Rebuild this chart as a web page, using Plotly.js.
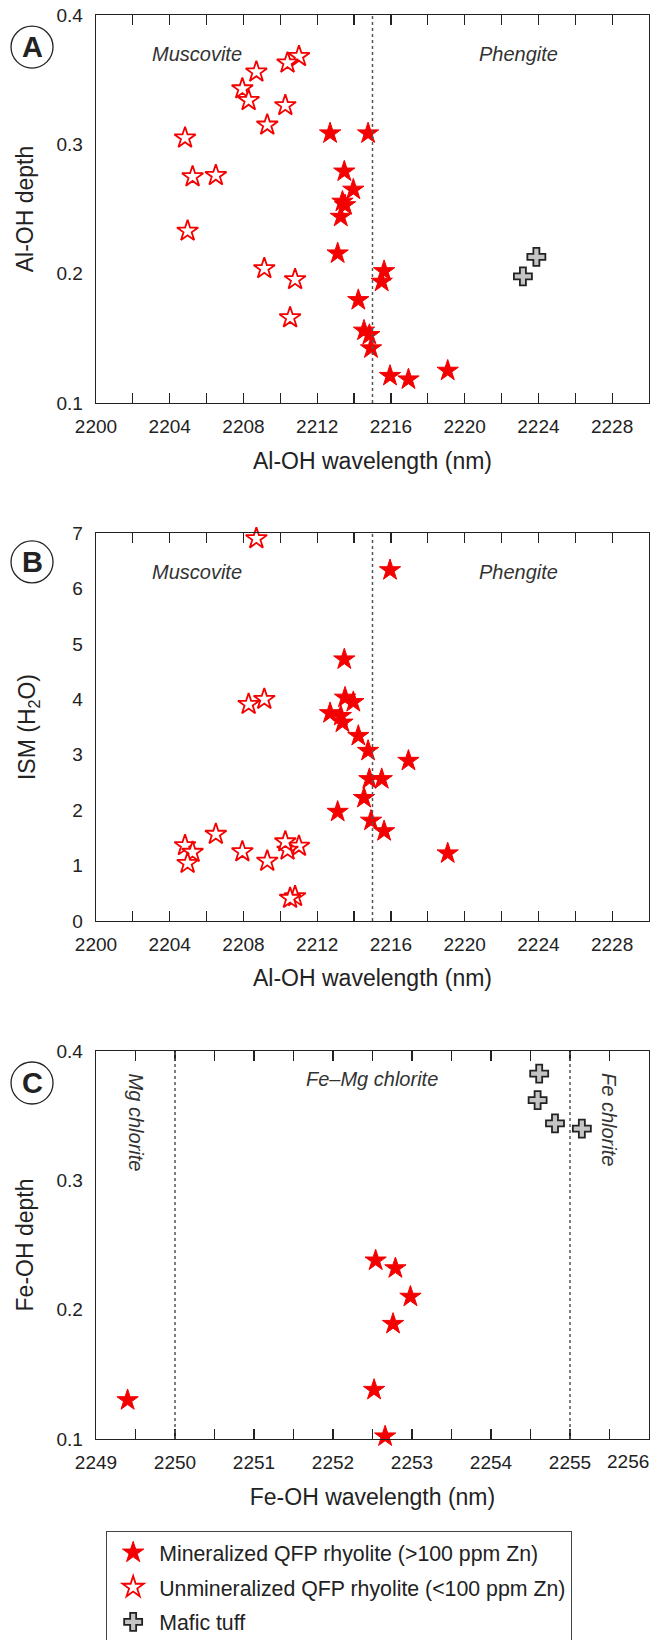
<!DOCTYPE html>
<html><head><meta charset="utf-8">
<script src="https://cdn.plot.ly/plotly-3.0.1.min.js"></script>
<style>html,body{margin:0;padding:0;background:#fff}</style>
</head><body><div id="chart" style="width:663px;height:1640px"></div>
<script>
// ---- Panel A / B : Al-OH (white mica) ----
const alohWlMin = [2212.70, 2214.76, 2213.47, 2213.96, 2213.37, 2213.51, 2213.28, 2213.11, 2215.63, 2215.50, 2214.23, 2214.54, 2214.83, 2214.92, 2215.95, 2216.95, 2219.08];
const alohDepthMin = [0.3085, 0.3085, 0.279, 0.265, 0.2557, 0.253, 0.244, 0.2157, 0.202, 0.1938, 0.1796, 0.156, 0.1526, 0.1423, 0.121, 0.1183, 0.125];
const ismMin = [3.75, 3.07, 4.72, 3.95, 3.58, 4.03, 3.70, 1.97, 1.62, 2.56, 3.34, 2.22, 2.56, 1.81, 6.33, 2.89, 1.22];

const alohWlUn = [2211.01, 2210.39, 2208.70, 2207.94, 2208.28, 2210.27, 2209.29, 2204.83, 2205.24, 2206.50, 2204.97, 2209.13, 2210.80, 2210.53];
const alohDepthUn = [0.368, 0.363, 0.356, 0.343, 0.334, 0.330, 0.315, 0.305, 0.275, 0.276, 0.233, 0.204, 0.1955, 0.166];
const ismUn = [1.35, 1.28, 6.90, 1.25, 3.91, 1.43, 1.08, 1.36, 1.24, 1.565, 1.04, 4.00, 0.44, 0.41];

const alohWlMafic = [2223.16, 2223.89];
const alohDepthMafic = [0.198, 0.213];

// ---- Panel C : Fe-OH (chlorite) ----
const feohWlMin = [2249.40, 2252.54, 2252.79, 2252.98, 2252.76, 2252.52, 2252.66];
const feohDepthMin = [0.130, 0.238, 0.232, 0.210, 0.189, 0.138, 0.102];
const feohWlMafic = [2254.61, 2254.59, 2254.81, 2255.15];
const feohDepthMafic = [0.3825, 0.362, 0.344, 0.340];

// tick labels of panel C; the last one (at the page edge) is drawn right-aligned as an annotation
const feohTickVals = [2249, 2250, 2251, 2252, 2253, 2254, 2255];
const feohTickText = ['2249', '2250', '2251', '2252', '2253', '2254', '2255'];
const feohLastTickVal = 2256;
const feohLastTick = '2256';

const seriesNames = ['Mineralized QFP rhyolite (>100 ppm Zn)', 'Unmineralized QFP rhyolite (<100 ppm Zn)', 'Mafic tuff'];

const RED = '#f50000';
const mkMin = {symbol: 'star', size: 16, color: RED, line: {color: RED, width: 1}};
const mkUn = {symbol: 'star', size: 16, color: '#ffffff', line: {color: RED, width: 1.8}};
const mkMaf = {symbol: 'cross', size: 15, color: '#c4c4c4', line: {color: '#222', width: 1.8}};

function tr(x, y, xa, ya, mk, i, show) {
  return {x: x, y: y, xaxis: xa, yaxis: ya, type: 'scatter', mode: 'markers', marker: mk,
          cliponaxis: false,
          name: seriesNames[i], legendgroup: 'g' + i, showlegend: show, hoverinfo: 'x+y'};
}

const data = [
  tr(alohWlMin, alohDepthMin, 'x', 'y', mkMin, 0, true),
  tr(alohWlUn, alohDepthUn, 'x', 'y', mkUn, 1, true),
  tr(alohWlMafic, alohDepthMafic, 'x', 'y', mkMaf, 2, true),
  tr(alohWlUn, ismUn, 'x2', 'y2', mkUn, 1, false),
  tr(alohWlMin, ismMin, 'x2', 'y2', mkMin, 0, false),
  tr(feohWlMafic, feohDepthMafic, 'x3', 'y3', mkMaf, 2, false),
  tr(feohWlMin, feohDepthMin, 'x3', 'y3', mkMin, 0, false)
];

const INK = '#222';
function xAx(anchor, range, dtick, title) {
  return {anchor: anchor, range: range, tick0: range[0], dtick: dtick, ticklabelstep: 2,
          ticks: 'inside', ticklen: 10, tickwidth: 1.2, tickcolor: INK,
          showline: true, linecolor: INK, linewidth: 1.3, mirror: 'allticks',
          showgrid: false, zeroline: false, automargin: false,
          tickfont: {size: 19, color: INK}, ticklabelstandoff: 6,
          title: {text: title, font: {size: 23, color: INK}, standoff: 16}};
}
function yAx(anchor, domain, range, dtick, title, so) {
  return {anchor: anchor, domain: domain, range: range, dtick: dtick, tick0: range[0],
          ticks: '', showline: true, linecolor: INK, linewidth: 1.3, mirror: true,
          showgrid: false, zeroline: false, automargin: false,
          tickfont: {size: 19, color: INK}, ticklabelstandoff: 8,
          title: {text: title, font: {size: 23, color: INK}, standoff: so}};
}
function yRight(anchor, over, range, dtick) {
  return {anchor: anchor, overlaying: over, side: 'right', range: range, dtick: dtick, tick0: range[0],
          ticks: 'inside', ticklen: 10, tickwidth: 1.2, tickcolor: INK, showticklabels: false,
          showline: false, showgrid: false, zeroline: false};
}

const domA = [0.7275, 1], domB = [0.3638, 0.6362], domC = [0, 0.2725];

function vline(xa, ya, xv) {
  return {type: 'line', xref: xa, yref: ya + ' domain', x0: xv, x1: xv, y0: 0, y1: 1,
          line: {dash: 'dot', color: '#555', width: 1.5}};
}
function circ(px, py) {
  return {type: 'circle', xref: 'paper', yref: 'paper', xsizemode: 'pixel', ysizemode: 'pixel',
          xanchor: px, yanchor: py, x0: -21, x1: 21, y0: -21, y1: 21, line: {color: INK, width: 1.3}};
}
function lab(txt, xa, ya, xv, yv, angle) {
  return {text: txt, xref: xa, yref: ya, x: xv, y: yv, showarrow: false, textangle: angle || 0,
          xanchor: 'center', yanchor: 'middle',
          font: {size: 20, color: '#333', family: 'Liberation Sans, Arial, sans-serif', style: 'italic'}};
}
function letter(t, px, py) {
  return {text: '<b>' + t + '</b>', xref: 'paper', yref: 'paper', x: px, y: py, showarrow: false,
          xanchor: 'center', yanchor: 'middle', font: {size: 29, color: INK}};
}

const xC = xAx('y3', [2249, 2256], 1, 'Fe-OH wavelength (nm)');
xC.tickmode = 'array'; xC.tickvals = feohTickVals; xC.ticktext = feohTickText;
xC.ticklabelstep = 1;
xC.minor = {tick0: 2249, dtick: 0.5, ticks: 'inside', ticklen: 10, tickwidth: 1.2, tickcolor: INK, showgrid: false};

const pxL = -0.1157;
const layout = {
  width: 663, height: 1640,
  margin: {l: 96, r: 14, t: 15, b: 201, autoexpand: false},
  paper_bgcolor: '#fff', plot_bgcolor: '#fff',
  font: {family: 'Liberation Sans, Arial, sans-serif', color: INK},
  xaxis: xAx('y', [2200, 2230], 2, 'Al-OH wavelength (nm)'),
  yaxis: yAx('x', domA, [0.1, 0.4], 0.1, 'Al-OH depth', 16),
  xaxis2: xAx('y2', [2200, 2230], 2, 'Al-OH wavelength (nm)'),
  yaxis2: yAx('x2', domB, [0, 7], 1, 'ISM (H<sub>2</sub>O)', 30),
  xaxis3: xC,
  yaxis3: yAx('x3', domC, [0.1, 0.4], 0.1, 'Fe-OH depth', 16),
  yaxis4: yRight('x', 'y', [0.1, 0.4], 0.1),
  yaxis5: yRight('x2', 'y2', [0, 7], 1),
  yaxis6: yRight('x3', 'y3', [0.1, 0.4], 0.1),
  showlegend: true,
  legend: {x: 0.018, xanchor: 'left', y: -0.0646, yanchor: 'top', bgcolor: '#fff',
           bordercolor: '#444', borderwidth: 1.2, font: {size: 21.3, color: INK},
           traceorder: 'grouped', tracegroupgap: 4, itemwidth: 42},
  shapes: [
    vline('x', 'y', 2215), vline('x2', 'y2', 2215), vline('x3', 'y3', 2250), vline('x3', 'y3', 2255),
    circ(pxL, 0.9775), circ(pxL, 0.6159), circ(pxL, 0.25)
  ],
  annotations: [
    lab('Muscovite', 'x', 'y', 2205.5, 0.37), lab('Phengite', 'x', 'y', 2222.9, 0.37),
    lab('Muscovite', 'x2', 'y2', 2205.5, 6.30), lab('Phengite', 'x2', 'y2', 2222.9, 6.30),
    lab('Fe–Mg chlorite', 'x3', 'y3', 2252.49, 0.378),
    lab('Mg chlorite', 'x3', 'y3', 2249.5, 0.345, 90),
    lab('Fe chlorite', 'x3', 'y3', 2255.5, 0.347, 90),
    letter('A', pxL, 0.9775), letter('B', pxL, 0.6159), letter('C', pxL, 0.25),
    {text: feohLastTick, xref: 'x3', yref: 'paper', x: feohLastTickVal, y: -0.0155,
     xanchor: 'right', yanchor: 'middle', xshift: 2, showarrow: false, font: {size: 19, color: INK}}
  ]
};

Plotly.newPlot('chart', data, layout, {displayModeBar: false, staticPlot: true});
</script></body></html>
